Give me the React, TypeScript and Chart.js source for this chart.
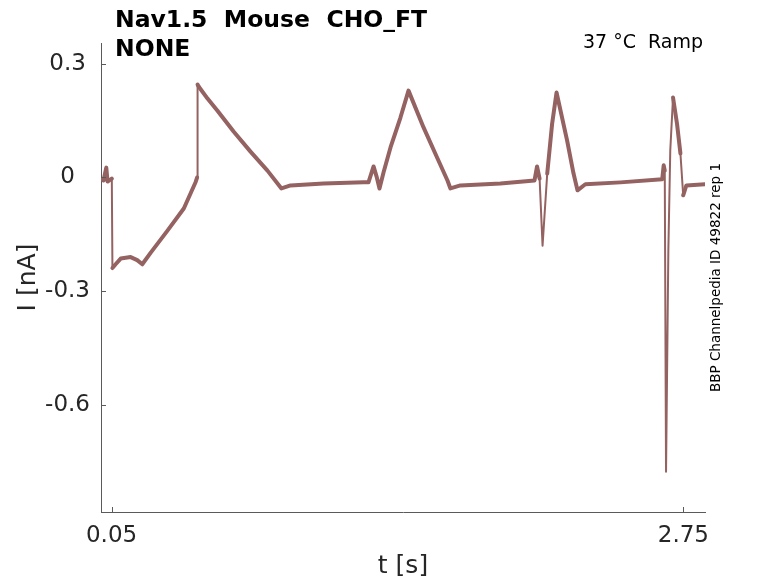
import React, { useEffect, useRef } from "react";
import { Chart, registerables } from "chart.js";

Chart.register(...registerables);

// time (s) and current (nA)
const tSec = [
    0.003, 0.012, 0.025, 0.031, 0.051, 0.054, 0.069, 0.093, 0.14, 0.171, 0.195,
    0.234, 0.313, 0.391, 0.447, 0.454, 0.456, 0.461, 0.503, 0.55, 0.626, 0.706,
    0.786, 0.852, 0.895, 1.051, 1.24, 1.263, 1.287, 1.301, 1.315, 1.334, 1.367,
    1.414, 1.452, 1.523, 1.589, 1.636, 1.65, 1.697, 1.886, 2.047, 2.059, 2.071,
    2.085, 2.107, 2.13, 2.151, 2.201, 2.231, 2.25, 2.287, 2.453, 2.65, 2.657,
    2.662, 2.668, 2.679, 2.688, 2.701, 2.72, 2.736, 2.749, 2.764, 2.852,
];
const iNa = [
    -0.005, -0.008, 0.026, -0.011, -0.003, -0.239, -0.229, -0.214, -0.21, -0.218,
    -0.229, -0.199, -0.141, -0.082, -0.012, 0.0, 0.245, 0.24, 0.208, 0.176, 0.121,
    0.068, 0.018, -0.029, -0.021, -0.016, -0.013, -0.013, 0.029, 0.003, -0.029,
    0.013, 0.079, 0.158, 0.229, 0.132, 0.05, -0.008, -0.029, -0.021, -0.016,
    -0.008, 0.029, -0.003, -0.18, 0.01, 0.141, 0.224, 0.097, 0.011, -0.034,
    -0.018, -0.013, -0.005, 0.032, 0.018, -0.776, -0.19, 0.071, 0.211, 0.141,
    0.063, -0.047, -0.021, -0.018,
];

const xTicks = [0.05, 2.75];
const yTicks = [0.3, 0, -0.3, -0.6];

const titleLines = ["Nav1.5  Mouse  CHO_FT", "NONE"];
const condition = "37 °C  Ramp";
const sideNote = "BBP Channelpedia ID 49822 rep 1";

const FONT = "'DejaVu Sans', sans-serif";
const AXIS = "#5a5a5a";
const TEXT = "#262626";

// matlab-ish inward ticks + the loose text around the axes
const decorations = {
    id: "decorations",
    afterDraw(chart: any) {
        const { ctx, chartArea, scales } = chart;
        ctx.save();
        ctx.strokeStyle = AXIS;
        ctx.lineWidth = 1;
        ctx.beginPath();
        yTicks.forEach((v) => {
            const y = Math.round(scales.y.getPixelForValue(v)) + 0.5;
            ctx.moveTo(chartArea.left, y);
            ctx.lineTo(chartArea.left + 5, y);
        });
        xTicks.forEach((v) => {
            const x = Math.round(scales.x.getPixelForValue(v)) + 0.5;
            ctx.moveTo(x, chartArea.bottom);
            ctx.lineTo(x, chartArea.bottom - 5);
        });
        ctx.stroke();

        ctx.fillStyle = "#000";
        ctx.textAlign = "left";
        ctx.textBaseline = "alphabetic";
        ctx.font = `bold 23.5px ${FONT}`;
        ctx.fillText(titleLines[0], 115, 27);
        ctx.fillText(titleLines[1], 115, 56);

        ctx.font = `19px ${FONT}`;
        ctx.textAlign = "right";
        ctx.fillText(condition, 703, 48);

        ctx.font = `13.5px ${FONT}`;
        ctx.textAlign = "center";
        ctx.translate(720, (chartArea.top + chartArea.bottom) / 2);
        ctx.rotate(-Math.PI / 2);
        ctx.fillText(sideNote, 0, 0);
        ctx.restore();
    },
};

export default function App() {
    const ref = useRef<HTMLCanvasElement | null>(null);

    useEffect(() => {
        if (!ref.current) return;

        const chart = new Chart(ref.current, {
            type: "line",
            data: {
                datasets: [
                    {
                        label: "I",
                        data: tSec.map((t, i) => ({ x: t, y: iNa[i] })),
                        borderColor: "#956262",
                        borderWidth: 4,
                        borderJoinStyle: "round",
                        borderCapStyle: "round",
                        pointRadius: 0,
                        tension: 0,
                        // the overlaid sweeps look thin where the trace is near vertical
                        segment: {
                            borderWidth: (c: any) => {
                                const dx = Math.abs(c.p1.x - c.p0.x);
                                const dy = Math.abs(c.p1.y - c.p0.y);
                                return dy > dx * 12 ? 2 : 4;
                            },
                        },
                    },
                ],
            },
            options: {
                responsive: false,
                animation: false,
                layout: { padding: { top: 43, right: 73, left: 0, bottom: 0 } },
                plugins: {
                    legend: { display: false },
                    tooltip: { enabled: false },
                },
                scales: {
                    x: {
                        type: "linear",
                        min: 0,
                        max: 2.852,
                        grid: { display: false, drawTicks: false },
                        border: { display: true, color: AXIS },
                        afterBuildTicks: (s: any) => {
                            s.ticks = xTicks.map((v) => ({ value: v }));
                        },
                        afterFit: (s: any) => {
                            s.height = 71;
                        },
                        ticks: {
                            padding: 10,
                            color: TEXT,
                            font: { family: FONT, size: 23 },
                            maxRotation: 0,
                            callback: (v) => String(v),
                        },
                        title: {
                            display: true,
                            text: "t [s]",
                            color: TEXT,
                            font: { family: FONT, size: 25 },
                            padding: { top: 0, bottom: 2 },
                        },
                    },
                    y: {
                        min: -0.8824,
                        max: 0.3546,
                        grid: { display: false, drawTicks: false },
                        border: { display: true, color: AXIS },
                        afterBuildTicks: (s: any) => {
                            s.ticks = yTicks.map((v) => ({ value: v }));
                        },
                        afterFit: (s: any) => {
                            s.width = 101;
                        },
                        ticks: {
                            padding: 11,
                            crossAlign: "center",
                            color: TEXT,
                            font: { family: FONT, size: 23 },
                            callback: (v) => String(v),
                        },
                        title: {
                            display: true,
                            text: "I [nA]",
                            color: TEXT,
                            font: { family: FONT, size: 25 },
                            padding: { top: 13, bottom: 0 },
                        },
                    },
                },
            },
            plugins: [decorations],
        });

        return () => chart.destroy();
    }, []);

    return (
        <div style={{ position: "fixed", left: 0, top: 0, width: 778, height: 583, background: "#fff" }}>
            <canvas ref={ref} width={778} height={583} />
        </div>
    );
}
